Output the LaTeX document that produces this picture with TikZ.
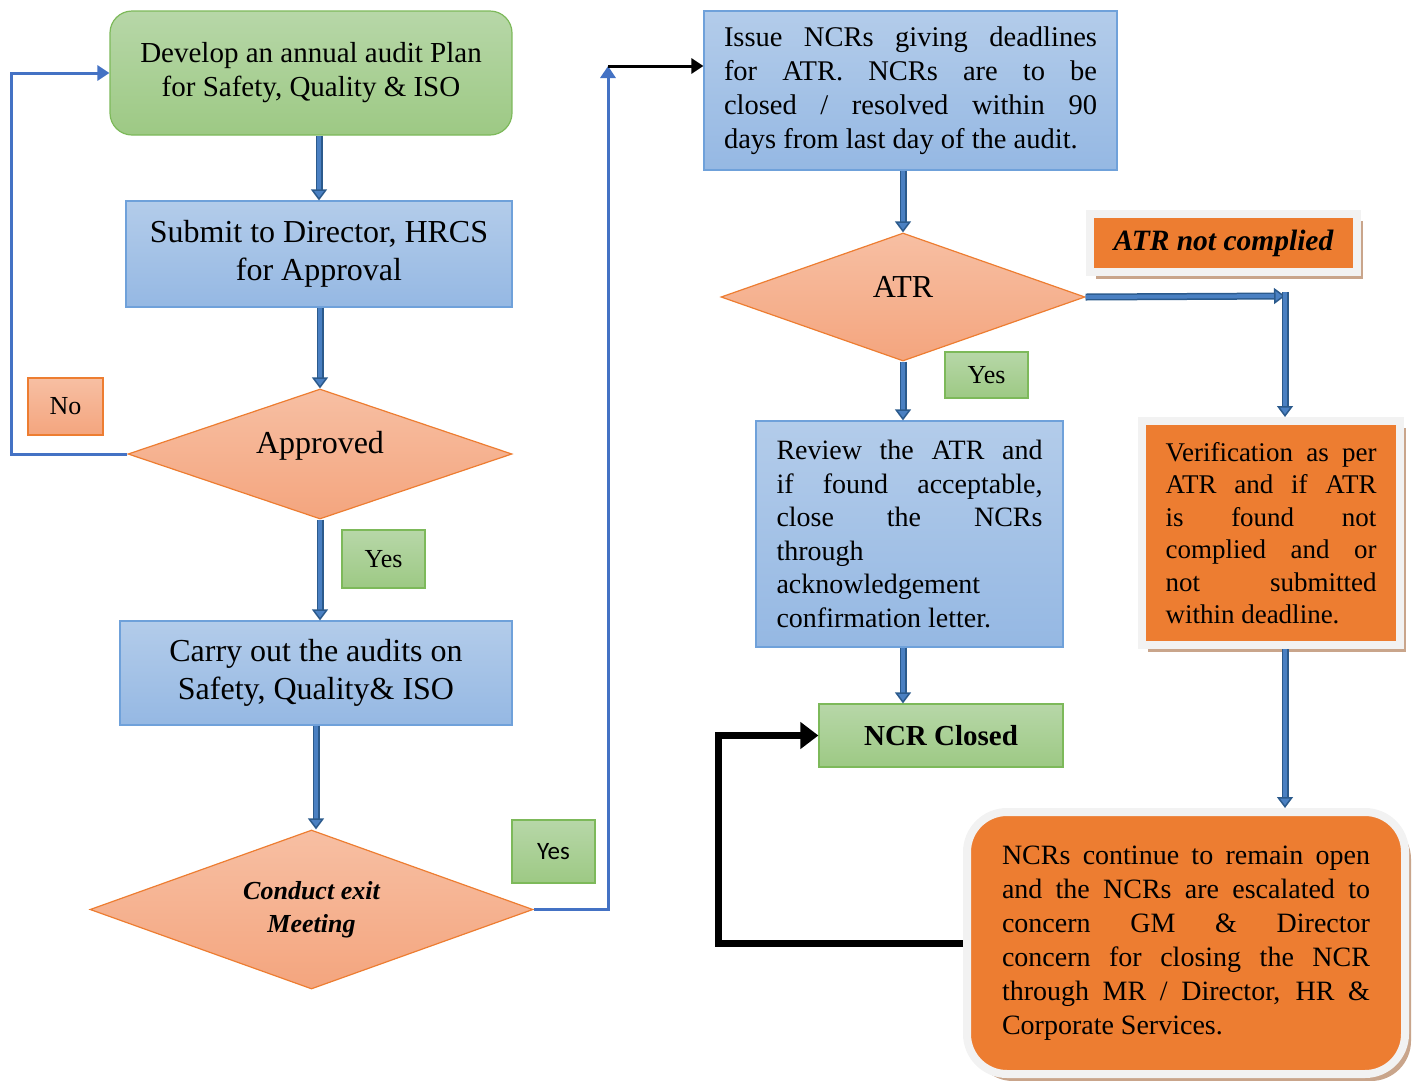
\documentclass[tikz,border=0pt]{standalone}
\usepackage{fontspec}
\setmainfont{Liberation Serif}
\newfontfamily\calibri{Carlito}
\usepackage{tikz}
\usetikzlibrary{arrows.meta,positioning,shapes.geometric,calc,shadows}
\definecolor{greentop}{HTML}{B7D7A8}
\definecolor{greenbot}{HTML}{9DC984}
\definecolor{greenline}{HTML}{7DB95A}
\definecolor{bluetop}{HTML}{B3CCEA}
\definecolor{bluebot}{HTML}{95B8E3}
\definecolor{blueline}{HTML}{6FA1DA}
\definecolor{peachtop}{HTML}{F7BFA3}
\definecolor{peachbot}{HTML}{F4A57E}
\definecolor{orangeline}{HTML}{ED7D31}
\definecolor{alertorange}{HTML}{ED7D31}
\definecolor{framegray}{HTML}{F2F2F2}
\definecolor{shadowtan}{HTML}{C9A58B}
\definecolor{flowdark}{HTML}{2B5A8C}
\definecolor{flowmid}{HTML}{4A80C2}
\definecolor{retblue}{HTML}{4472C4}
\hyphenpenalty=10000
\exhyphenpenalty=10000
\begin{document}
\begin{tikzpicture}[x=1pt, y=-1pt,
  plan/.style={draw=greenline, top color=greentop, bottom color=greenbot, line width=1.2pt, rounded corners=22pt, align=center, font=\fontsize{29pt}{34pt}\selectfont},
  proc/.style={draw=blueline, top color=bluetop, bottom color=bluebot, line width=1.2pt, align=center, font=\fontsize{32pt}{38pt}\selectfont},
  note/.style={draw=blueline, top color=bluetop, bottom color=bluebot, line width=1.2pt, align=justify, font=\fontsize{28.5pt}{34pt}\selectfont},
  decide/.style={diamond, aspect=3, draw=orangeline, top color=peachtop, bottom color=peachbot, line width=1.2pt, align=center, inner sep=0pt},
  tagyes/.style={draw=greenline, top color=greentop, bottom color=greenbot, line width=1.2pt, font=\fontsize{26pt}{30pt}\selectfont},
  tagno/.style={draw=orangeline, top color=peachtop, bottom color=peachbot, line width=1.2pt, font=\fontsize{26pt}{30pt}\selectfont},
  alert/.style={fill=alertorange, draw=framegray, line width=8pt, drop shadow={shadow xshift=6pt, shadow yshift=-7pt, fill=shadowtan, opacity=1}},
  flow/.style={draw=flowdark, double=flowmid, double distance=4pt, line width=1.5pt, -{Triangle[length=11pt, width=16pt, fill=flowmid]}},
  retline/.style={draw=retblue, line width=3pt, -{Triangle[length=12pt, width=15pt]}},
  escline/.style={draw=black, line width=7pt, -{Triangle[length=18pt, width=26pt]}}]
\useasboundingbox (0,0) rectangle (1417,1080);

\node[plan, minimum width=402pt, minimum height=124pt] (plan) at (311,73) {Develop an annual audit Plan\\for Safety, Quality \& ISO};
\node[proc, minimum width=386pt, minimum height=106pt] (submit) at (319,254) {Submit to Director, HRCS\\for Approval};
\node[decide, minimum width=384pt, minimum height=130pt, text depth=23pt, font=\fontsize{32pt}{38pt}\selectfont] (appr) at (320,454) {Approved};
\node[tagno, minimum width=75pt, minimum height=57pt] (no) at (65.5,406.5) {No};
\node[tagyes, minimum width=83pt, minimum height=58pt] (yesa) at (383.5,559) {Yes};
\node[proc, minimum width=392pt, minimum height=104pt] (carry) at (316,673) {Carry out the audits on\\Safety, Quality\& ISO};
\node[decide, minimum width=443pt, minimum height=159pt, font=\fontsize{26pt}{33pt}\bfseries\itshape] (exit) at (311.5,909.5) {Conduct exit\\Meeting};
\node[tagyes, minimum width=83pt, minimum height=63pt, font=\fontsize{25pt}{30pt}\calibri] (yesb) at (553.5,851.5) {Yes};

\node[note, text width=373pt, minimum width=413pt, minimum height=159pt] (issue) at (910.5,90.5) {Issue NCRs giving deadlines\linebreak for ATR. NCRs are to be\linebreak closed / resolved within 90\linebreak days from last day of the audit.};
\node[decide, minimum width=364pt, minimum height=128pt, text depth=20pt, font=\fontsize{32pt}{38pt}\selectfont] (atr) at (903,297) {ATR};
\node[tagyes, minimum width=83pt, minimum height=46pt] (yesc) at (986.5,375) {Yes};
\node[note, text width=266pt, minimum width=307pt, minimum height=226pt, font=\fontsize{28pt}{33.6pt}\selectfont] (review) at (909.5,534) {Review the ATR and\linebreak if found acceptable,\linebreak close the NCRs\linebreak through\newline acknowledgement\newline confirmation letter.};
\node[tagyes, minimum width=244pt, minimum height=63pt, font=\fontsize{29pt}{32pt}\bfseries] (closed) at (941,735.5) {NCR Closed};

\node[alert, minimum width=267pt, minimum height=58pt, font=\fontsize{29.5pt}{32pt}\bfseries\itshape] (notok) at (1223.5,243) {ATR not complied};
\node[alert, text width=211pt, minimum width=258pt, minimum height=224pt, align=justify, font=\fontsize{27pt}{32.5pt}\selectfont] (verif) at (1271,533) {Verification as per\linebreak ATR and if ATR\linebreak is found not\linebreak complied and or\linebreak not submitted\linebreak within deadline.};
\node[alert, rounded corners=40pt, text width=368pt, minimum width=438pt, minimum height=262pt, align=justify, font=\fontsize{28pt}{34pt}\selectfont] (esc) at (1186,943) {NCRs continue to remain open\linebreak and the NCRs are escalated to\linebreak concern GM \& Director\linebreak concern for closing the NCR\linebreak through MR / Director, HR \&\linebreak Corporate Services.};

\coordinate (up) at (608,66);
\coordinate (turn) at (1285,296);

\draw[flow] (submit.north |- plan.south) -- (submit.north);
\draw[flow] (appr.north |- submit.south) -- (appr.north);
\draw[flow] (appr.south) -- (appr.south |- carry.north);
\draw[flow] (carry.south) -- (carry.south |- exit.north);
\draw[retline] (appr.west) -- ++(-116,0) |- (plan.west);
\draw[retline] (exit.east) -| (up);
\draw[draw=black, line width=3pt, -{Triangle[length=12pt, width=15pt]}] (up) -- (up -| issue.west);
\draw[flow] (atr.north |- issue.south) -- (atr.north);
\draw[flow] (atr.south) -- (atr.south |- review.north);
\draw[flow] (atr.south |- review.south) -- (atr.south |- closed.north);
\draw[flow] (atr.east) -- (turn);
\draw[flow] ([yshift=4pt]turn) -- (turn |- verif.north);
\draw[flow] (turn |- verif.south) -- (turn |- esc.north);
\draw[escline] (esc.west) -| ([xshift=-100pt]closed.west) -- (closed.west);
\end{tikzpicture}
\end{document}
